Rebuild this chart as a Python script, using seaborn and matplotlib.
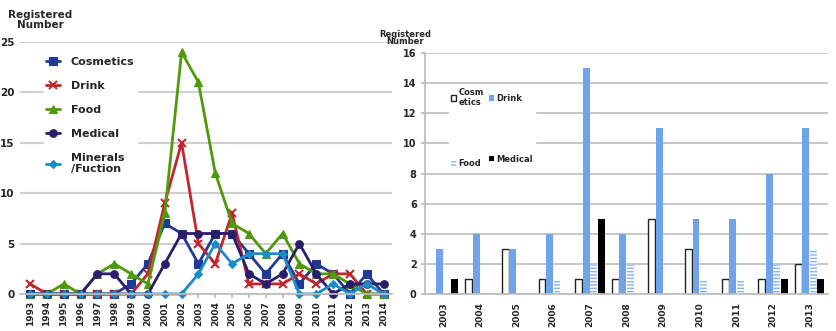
import numpy as np
import pandas as pd
import matplotlib
matplotlib.use("Agg")
import matplotlib.pyplot as plt
import seaborn as sns

# ---------------- data ----------------
years_line = list(range(1993, 2015))
cosmetics_line = [0, 0, 0, 0, 0, 0, 1, 3, 7, 6, 3, 6, 6, 4, 2, 4, 1, 3, 2, 0, 2, 0]
drink_line     = [1, 0, 0, 0, 0, 0, 0, 2, 9, 15, 5, 3, 8, 1, 1, 1, 2, 1, 2, 2, 0, 0]
food_line      = [0, 0, 1, 0, 2, 3, 2, 1, 8, 24, 21, 12, 7, 6, 4, 6, 3, 2, 2, 1, 0, 0]
medical_line   = [0, 0, 0, 0, 2, 2, 0, 0, 3, 6, 6, 6, 6, 2, 1, 2, 5, 2, 0, 1, 1, 1]
minerals_line  = [0, 0, 0, 0, 0, 0, 0, 0, 0, 0, 2, 5, 3, 4, 4, 4, 0, 0, 1, 0, 1, 0]
line_names = ["Cosmetics", "Drink", "Food", "Medical", "Minerals\n/Fuction"]

years_bar = [str(y) for y in range(2003, 2014)]
cosmetics_bar = [0, 1, 3, 1, 1, 1, 5, 3, 1, 1, 2]
drink_bar     = [3, 4, 3, 4, 15, 4, 11, 5, 5, 8, 11]
food_bar      = [0, 0, 0, 1, 2, 2, 0, 1, 1, 2, 3]
medical_bar   = [1, 0, 0, 0, 5, 0, 0, 0, 0, 1, 1]
bar_names = ["Cosm\netics", "Drink", "Food", "Medical"]

# ---------------- styling ----------------
sns.set_theme(style="white")
plt.rcParams["font.family"] = ["DejaVu Sans"]
plt.rcParams["hatch.linewidth"] = 1.0

fig = plt.figure(figsize=(8.37, 3.31), dpi=100)
W, H = 837, 331

def axes_px(x0, y_top, x1, y_bot):
    return fig.add_axes([x0 / W, (H - y_bot) / H, (x1 - x0) / W, (y_bot - y_top) / H])

# ---------------- left: line chart ----------------
ax1 = axes_px(20, 42, 392, 294)
line_df = pd.DataFrame({
    "year": years_line * 5,
    "value": cosmetics_line + drink_line + food_line + medical_line + minerals_line,
    "series": sum([[n] * len(years_line) for n in line_names], []),
})
line_colors = ["#1f3a96", "#c0262c", "#4f9a0c", "#2b1d6b", "#1a8cc8"]
line_markers = ["s", "x", "^", "o", "D"]
line_msize = [6, 6, 6, 5.5, 4.5]
for name, col, mk, ms in zip(line_names, line_colors, line_markers, line_msize):
    sub = line_df[line_df["series"] == name]
    sns.lineplot(data=sub, x="year", y="value", ax=ax1, color=col, marker=mk,
                 markersize=ms, linewidth=2, label=name, clip_on=False,
                 markeredgecolor=col, markeredgewidth=1.5 if mk == "x" else 0.8)

ax1.set_xlim(1992.4, 2014.5)
ax1.set_ylim(0, 25)
ax1.set_yticks([0, 5, 10, 15, 20, 25])
ax1.set_xticks(years_line)
ax1.set_xticklabels([str(y) for y in years_line], rotation=90, fontsize=6.5,
                    fontweight="bold")
for t in ax1.get_yticklabels():
    t.set_fontsize(7.5)
    t.set_fontweight("bold")
ax1.yaxis.grid(True, color="#cfcfcf", linewidth=1.5)
ax1.set_axisbelow(True)
for s in ["top", "right"]:
    ax1.spines[s].set_visible(False)
ax1.spines["left"].set_visible(False)
ax1.spines["bottom"].set_color("#bdbdbd")
ax1.tick_params(axis="x", length=3, color="#bdbdbd", pad=2, bottom=True)
ax1.tick_params(axis="y", length=0, pad=4)
ax1.set_xlabel("")
ax1.set_ylabel("")
leg1 = ax1.legend(loc="upper left", bbox_to_anchor=(0.05, 0.97), frameon=True,
                  facecolor="white", edgecolor="white", framealpha=1,
                  handlelength=1.2, labelspacing=1.25, handletextpad=1.0,
                  prop={"weight": "bold", "size": 8}, borderpad=0.2)
fig.text(40 / W, 1 - 20 / H, "Registered\nNumber", fontsize=7.5, fontweight="bold",
         ha="center", va="center", linespacing=0.9, multialignment="center")

# ---------------- right: bar chart ----------------
ax2 = axes_px(425, 53, 828, 294)
bar_df = pd.DataFrame({
    "year": years_bar * 4,
    "value": cosmetics_bar + drink_bar + food_bar + medical_bar,
    "cat": sum([[n] * len(years_bar) for n in bar_names], []),
})
pal = {"Cosm\netics": "white", "Drink": "#6fa3ea", "Food": "white", "Medical": "black"}
sns.barplot(data=bar_df, x="year", y="value", hue="cat", palette=pal, ax=ax2,
            width=0.82, gap=0.08, legend=False)
cont = ax2.containers
for p in cont[0]:
    p.set_facecolor("white"); p.set_edgecolor("#222222"); p.set_linewidth(1.0)
for p in cont[1]:
    p.set_facecolor("#6fa3ea"); p.set_edgecolor("#6fa3ea"); p.set_linewidth(0)
for p in cont[2]:
    p.set_facecolor("white"); p.set_edgecolor("#8ab6ee"); p.set_hatch("-----")
    p.set_linewidth(0)
for p in cont[3]:
    p.set_facecolor("black"); p.set_edgecolor("black"); p.set_linewidth(0)

ax2.set_ylim(0, 16)
ax2.set_yticks(range(0, 17, 2))
ax2.set_xticks(range(len(years_bar)))
ax2.set_xticklabels(years_bar, rotation=90, fontsize=6.5, fontweight="bold")
for t in ax2.get_yticklabels():
    t.set_fontsize(7)
    t.set_fontweight("bold")
ax2.yaxis.grid(True, color="#bdbdbd", linewidth=1.2)
ax2.set_axisbelow(True)
for s in ["top", "right"]:
    ax2.spines[s].set_visible(False)
ax2.spines["left"].set_color("#bdbdbd")
ax2.spines["bottom"].set_color("#bdbdbd")
ax2.tick_params(axis="x", length=0, pad=6)
ax2.tick_params(axis="y", length=3, color="#bdbdbd", pad=3, left=True)
ax2.set_xlabel("")
ax2.set_ylabel("")
handles = [cont[0][0], cont[2][3], cont[1][0], cont[3][0]]
labels = [bar_names[0], bar_names[2], bar_names[1], bar_names[3]]
leg2 = ax2.legend(handles, labels, ncol=2, loc="upper left",
                  bbox_to_anchor=(0.05, 0.88), frameon=True, facecolor="white",
                  edgecolor="white", framealpha=1, handlelength=0.6,
                  handleheight=0.6, labelspacing=6.2, columnspacing=0.6,
                  handletextpad=0.3, prop={"weight": "bold", "size": 6},
                  borderpad=0.2)
fig.text(405 / W, 1 - 38 / H, "Registered\nNumber", fontsize=6, fontweight="bold",
         ha="center", va="center", linespacing=0.85, multialignment="center")

fig.savefig("out.png", dpi=100, facecolor="white")
